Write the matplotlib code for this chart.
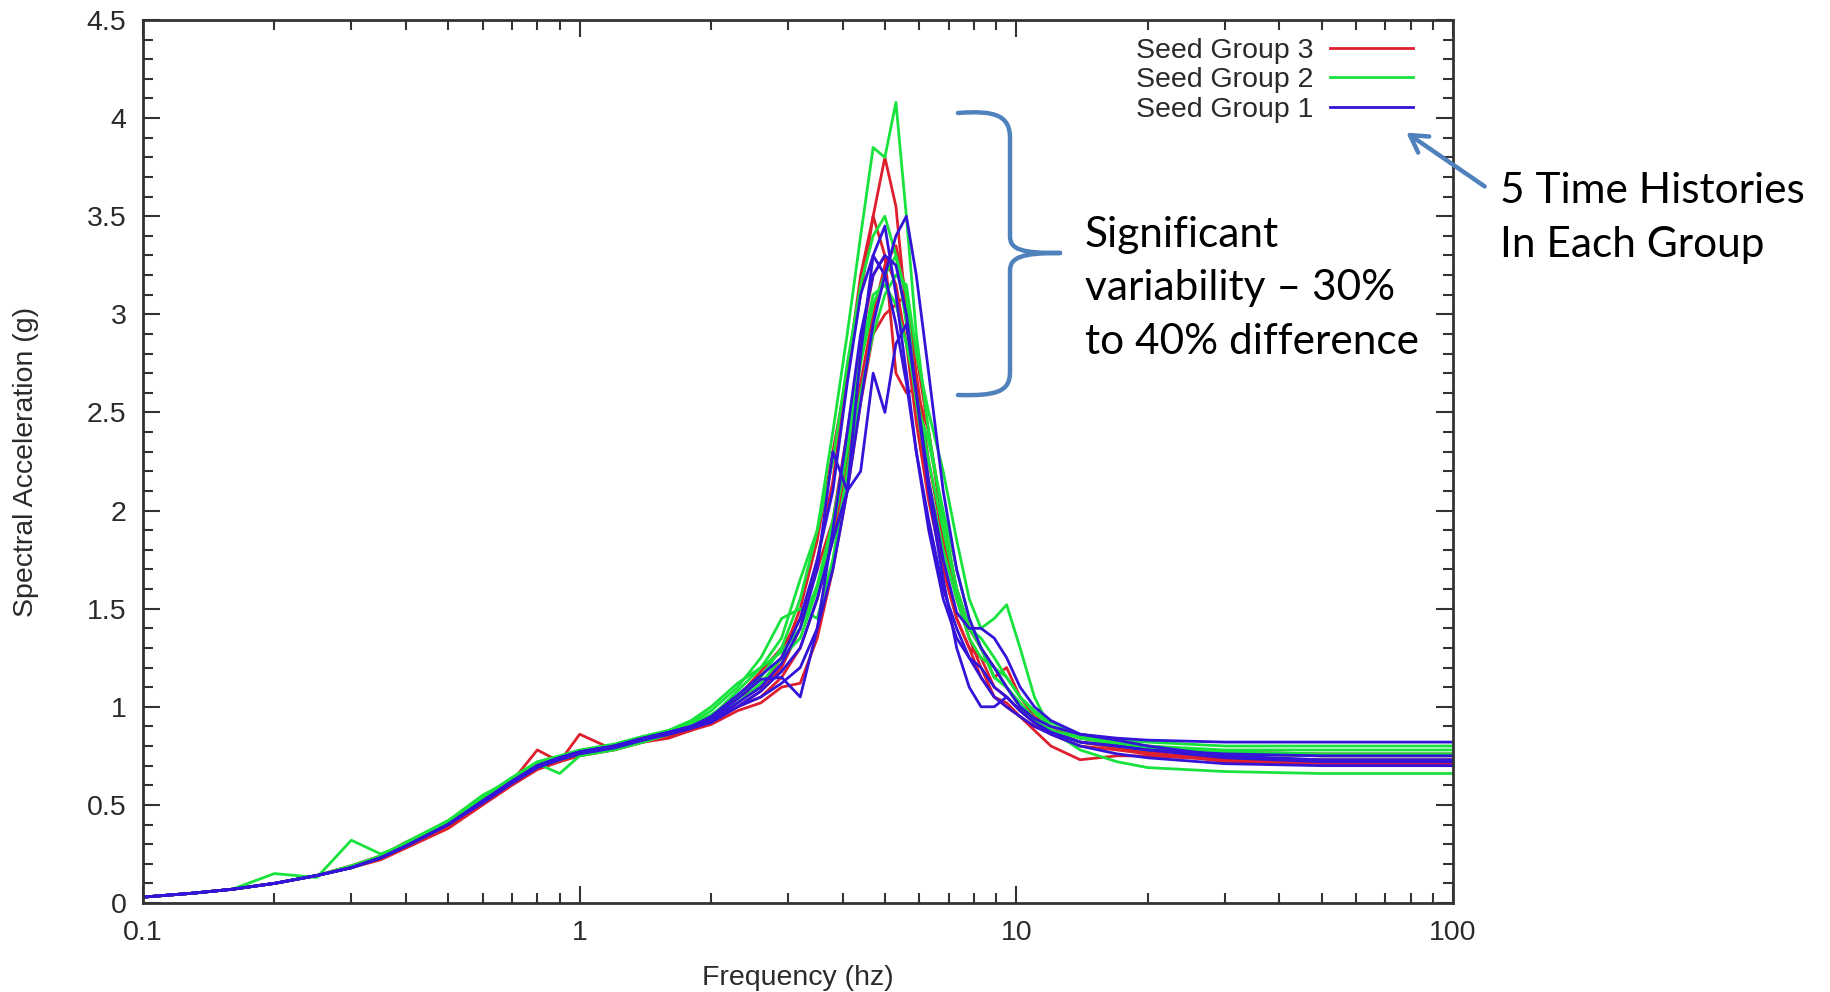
import matplotlib
matplotlib.use('Agg')
import matplotlib.pyplot as plt
from matplotlib.path import Path
from matplotlib.patches import PathPatch, FancyArrowPatch
from matplotlib.ticker import MultipleLocator, FixedLocator, LogLocator, NullFormatter

# frequency grid (hz)
freq = [0.1, 0.13, 0.16, 0.2, 0.25, 0.3, 0.35, 0.4, 0.5, 0.6, 0.7, 0.8, 0.9, 1.0,
        1.2, 1.4, 1.6, 1.8, 2.0, 2.3, 2.6, 2.9, 3.2, 3.5, 3.8, 4.1, 4.4, 4.7, 5.0,
        5.3, 5.6, 5.9, 6.3, 6.8, 7.3, 7.8, 8.3, 8.9, 9.5, 10.2, 11, 12, 14, 17, 20,
        30, 50, 100]

# Seed Group 3 (red)
group3 = [
    [0.03, 0.05, 0.07, 0.10, 0.14, 0.19, 0.24, 0.31, 0.40, 0.52, 0.62, 0.78, 0.72, 0.86, 0.78, 0.84, 0.85, 0.88, 0.92, 1.00, 1.08, 1.20, 1.40, 1.75, 2.15, 2.70, 3.20, 3.50, 3.80, 3.55, 3.00, 2.55, 2.10, 1.70, 1.45, 1.30, 1.25, 1.10, 1.05, 0.98, 0.92, 0.86, 0.80, 0.78, 0.76, 0.74, 0.73, 0.73],
    [0.03, 0.05, 0.07, 0.10, 0.14, 0.18, 0.23, 0.29, 0.40, 0.51, 0.61, 0.70, 0.74, 0.77, 0.80, 0.82, 0.86, 0.90, 0.95, 1.05, 1.10, 1.25, 1.50, 1.85, 2.30, 2.70, 3.10, 3.50, 3.30, 2.70, 2.60, 2.62, 2.40, 1.90, 1.60, 1.40, 1.30, 1.15, 1.20, 1.05, 0.95, 0.90, 0.84, 0.81, 0.79, 0.76, 0.75, 0.75],
    [0.03, 0.05, 0.07, 0.10, 0.14, 0.18, 0.23, 0.29, 0.39, 0.51, 0.61, 0.69, 0.73, 0.76, 0.79, 0.83, 0.87, 0.89, 0.93, 1.00, 1.05, 1.15, 1.30, 1.55, 1.85, 2.25, 2.65, 3.00, 3.25, 3.35, 3.10, 2.70, 2.25, 1.85, 1.55, 1.35, 1.20, 1.05, 1.00, 0.95, 0.90, 0.88, 0.85, 0.82, 0.80, 0.77, 0.76, 0.76],
    [0.03, 0.05, 0.07, 0.10, 0.14, 0.18, 0.22, 0.28, 0.38, 0.50, 0.60, 0.68, 0.72, 0.75, 0.78, 0.82, 0.84, 0.88, 0.91, 0.98, 1.02, 1.10, 1.12, 1.35, 1.70, 2.10, 2.55, 2.90, 3.00, 3.05, 3.10, 2.80, 2.40, 1.95, 1.60, 1.40, 1.30, 1.20, 1.10, 1.00, 0.93, 0.88, 0.82, 0.79, 0.77, 0.72, 0.71, 0.71],
    [0.03, 0.05, 0.07, 0.10, 0.14, 0.18, 0.23, 0.30, 0.40, 0.52, 0.62, 0.70, 0.74, 0.77, 0.80, 0.84, 0.87, 0.90, 0.94, 1.05, 1.18, 1.30, 1.45, 1.70, 1.95, 2.40, 2.85, 3.20, 3.30, 3.15, 2.85, 2.45, 2.05, 1.70, 1.45, 1.30, 1.15, 1.05, 1.02, 0.95, 0.88, 0.80, 0.73, 0.75, 0.75, 0.73, 0.72, 0.72],
]

# Seed Group 2 (green)
group2 = [
    [0.03, 0.05, 0.07, 0.10, 0.14, 0.18, 0.23, 0.29, 0.40, 0.52, 0.62, 0.70, 0.74, 0.77, 0.80, 0.84, 0.87, 0.91, 0.96, 1.05, 1.15, 1.30, 1.55, 1.90, 2.40, 2.90, 3.40, 3.85, 3.80, 4.08, 3.50, 2.90, 2.40, 1.95, 1.60, 1.40, 1.30, 1.15, 1.10, 1.00, 0.93, 0.88, 0.84, 0.81, 0.79, 0.77, 0.76, 0.76],
    [0.03, 0.05, 0.07, 0.15, 0.13, 0.32, 0.25, 0.30, 0.42, 0.55, 0.63, 0.71, 0.66, 0.75, 0.78, 0.82, 0.86, 0.92, 0.98, 1.10, 1.25, 1.45, 1.50, 1.45, 1.75, 2.20, 2.60, 2.90, 3.10, 3.20, 3.15, 2.80, 2.50, 2.20, 1.85, 1.55, 1.40, 1.45, 1.52, 1.30, 1.05, 0.88, 0.78, 0.72, 0.69, 0.67, 0.66, 0.66],
    [0.03, 0.05, 0.07, 0.10, 0.14, 0.18, 0.23, 0.30, 0.41, 0.54, 0.64, 0.72, 0.75, 0.78, 0.81, 0.85, 0.88, 0.93, 1.00, 1.12, 1.20, 1.35, 1.65, 1.90, 2.25, 2.75, 3.15, 3.40, 3.50, 3.30, 2.95, 2.55, 2.15, 1.80, 1.55, 1.35, 1.25, 1.20, 1.15, 1.05, 0.97, 0.90, 0.85, 0.82, 0.80, 0.78, 0.78, 0.78],
    [0.03, 0.05, 0.07, 0.10, 0.14, 0.18, 0.23, 0.29, 0.40, 0.52, 0.62, 0.70, 0.73, 0.76, 0.79, 0.83, 0.86, 0.90, 0.94, 1.02, 1.12, 1.25, 1.35, 1.60, 1.90, 2.30, 2.75, 3.05, 3.20, 3.30, 3.10, 2.55, 2.35, 2.00, 1.70, 1.45, 1.30, 1.15, 1.10, 1.02, 0.94, 0.87, 0.82, 0.80, 0.78, 0.76, 0.75, 0.75],
    [0.03, 0.05, 0.07, 0.10, 0.14, 0.19, 0.24, 0.31, 0.42, 0.53, 0.63, 0.71, 0.74, 0.77, 0.80, 0.84, 0.88, 0.91, 0.95, 1.08, 1.20, 1.28, 1.40, 1.62, 1.95, 2.35, 2.80, 3.10, 3.15, 3.05, 2.85, 2.60, 2.25, 1.90, 1.60, 1.40, 1.35, 1.25, 1.15, 1.05, 0.98, 0.92, 0.86, 0.83, 0.82, 0.80, 0.80, 0.80],
]

# Seed Group 1 (blue)
group1 = [
    [0.03, 0.05, 0.07, 0.10, 0.14, 0.18, 0.23, 0.29, 0.40, 0.52, 0.62, 0.70, 0.74, 0.77, 0.80, 0.84, 0.87, 0.90, 0.93, 1.00, 1.05, 1.12, 1.20, 1.40, 1.70, 2.10, 2.55, 2.95, 3.20, 3.40, 3.50, 3.20, 2.70, 2.10, 1.70, 1.45, 1.30, 1.20, 1.10, 1.00, 0.94, 0.90, 0.86, 0.84, 0.83, 0.82, 0.82, 0.82],
    [0.03, 0.05, 0.07, 0.10, 0.14, 0.18, 0.23, 0.29, 0.40, 0.52, 0.62, 0.70, 0.74, 0.77, 0.80, 0.84, 0.86, 0.89, 0.93, 1.02, 1.10, 1.22, 1.40, 1.70, 2.30, 2.10, 2.80, 3.30, 3.45, 3.10, 2.70, 2.30, 1.90, 1.55, 1.35, 1.25, 1.20, 1.10, 1.05, 0.98, 0.92, 0.87, 0.82, 0.80, 0.78, 0.76, 0.75, 0.75],
    [0.03, 0.05, 0.07, 0.10, 0.14, 0.18, 0.23, 0.29, 0.40, 0.51, 0.61, 0.69, 0.73, 0.76, 0.79, 0.83, 0.86, 0.89, 0.92, 1.00, 1.08, 1.18, 1.30, 1.55, 1.85, 2.10, 2.20, 2.70, 2.50, 2.85, 2.95, 2.60, 2.10, 1.65, 1.30, 1.10, 1.00, 1.00, 1.05, 0.98, 0.92, 0.87, 0.82, 0.80, 0.78, 0.74, 0.72, 0.72],
    [0.03, 0.05, 0.07, 0.10, 0.14, 0.18, 0.23, 0.29, 0.40, 0.52, 0.62, 0.70, 0.74, 0.77, 0.80, 0.84, 0.87, 0.90, 0.94, 1.04, 1.14, 1.15, 1.05, 1.40, 1.90, 2.40, 2.90, 3.20, 3.30, 3.25, 3.00, 2.60, 2.15, 1.75, 1.48, 1.40, 1.40, 1.35, 1.25, 1.10, 1.00, 0.93, 0.86, 0.83, 0.80, 0.75, 0.73, 0.73],
    [0.03, 0.05, 0.07, 0.10, 0.14, 0.18, 0.23, 0.29, 0.40, 0.52, 0.62, 0.70, 0.74, 0.77, 0.80, 0.84, 0.87, 0.90, 0.95, 1.06, 1.16, 1.25, 1.45, 1.75, 2.10, 2.65, 3.10, 3.30, 3.20, 2.95, 2.65, 2.30, 1.95, 1.60, 1.40, 1.25, 1.15, 1.05, 1.00, 0.95, 0.90, 0.86, 0.80, 0.76, 0.74, 0.71, 0.70, 0.70],
]

groups = [('Seed Group 3', group3, '#dd1f2e'),
          ('Seed Group 2', group2, '#18e23c'),
          ('Seed Group 1', group1, '#3414d8')]

W, H = 1831, 992
plt.rcParams['font.family'] = ['Liberation Sans', 'DejaVu Sans']

fig = plt.figure(figsize=(W / 100, H / 100), dpi=100)
ax = fig.add_axes([143 / W, 1 - 903 / H, 1310 / W, 883 / H])

handles = []
for name, curves, col in groups:
    for i, c in enumerate(curves):
        ln, = ax.plot(freq, c, color=col, lw=2.0, solid_joinstyle='round')
        if i == 0:
            handles.append((ln, name))

ax.set_xscale('log')
ax.set_xlim(0.1, 100)
ax.set_ylim(0, 4.5)
ax.xaxis.set_major_locator(FixedLocator([0.1, 1, 10, 100]))
ax.set_xticklabels(['0.1', '1', '10', '100'])
ax.xaxis.set_minor_locator(LogLocator(base=10, subs=range(2, 10)))
ax.xaxis.set_minor_formatter(NullFormatter())
ax.set_yticks([0, 0.5, 1, 1.5, 2, 2.5, 3, 3.5, 4, 4.5])
ax.set_yticklabels(['0', '0.5', '1', '1.5', '2', '2.5', '3', '3.5', '4', '4.5'])
ax.yaxis.set_minor_locator(MultipleLocator(0.1))

txtcol = '#2a2a2a'
ax.tick_params(which='both', direction='in', top=True, right=True, colors='#333333',
               labelcolor=txtcol, labelsize=20.5, width=1.5)
ax.tick_params(which='major', length=12, pad=12)
ax.tick_params(which='minor', length=7)
for s in ax.spines.values():
    s.set_linewidth(2)
    s.set_color('#333333')

ax.set_xlabel('Frequency (hz)', fontsize=20.5, color=txtcol, labelpad=14)
ax.set_ylabel('Spectral Acceleration (g)', fontsize=20.5, color=txtcol, labelpad=34)

leg = ax.legend([h for h, _ in handles], [n for _, n in handles], loc='upper right',
                frameon=False, markerfirst=False, fontsize=20.5, handlelength=2.9,
                handletextpad=0.6, labelspacing=0.12, borderaxespad=0.3,
                bbox_to_anchor=(1 - 20 / 1310, 1 + 2 / 883))
for t in leg.get_texts():
    t.set_color(txtcol)


def px(x, y):
    return (x / W, 1 - y / H)


blue = '#4f81bd'
# curly brace
verts = [px(958, 113), px(996, 110), px(1010, 116), px(1010, 138), px(1010, 236),
         px(1010, 250), px(1022, 253), px(1060, 253),
         px(1060, 253), px(1022, 253), px(1010, 257), px(1010, 271), px(1010, 372),
         px(1010, 392), px(996, 396), px(958, 395)]
codes = [Path.MOVETO, Path.CURVE4, Path.CURVE4, Path.CURVE4, Path.LINETO,
         Path.CURVE4, Path.CURVE4, Path.CURVE4,
         Path.MOVETO, Path.CURVE4, Path.CURVE4, Path.CURVE4, Path.LINETO,
         Path.CURVE4, Path.CURVE4, Path.CURVE4]
fig.patches.append(PathPatch(Path(verts, codes), transform=fig.transFigure,
                             fill=False, edgecolor=blue, lw=3.2, capstyle='round'))

# arrow to legend
arr = FancyArrowPatch(px(1487, 188), px(1404, 131), transform=fig.transFigure,
                      arrowstyle='->,head_length=12,head_width=7', color=blue,
                      lw=3.2, mutation_scale=1, capstyle='round', joinstyle='round')
fig.patches.append(arr)

note_font = ['Lato', 'DejaVu Sans']
fig.text(*px(1085, 288), 'Significant\nvariability \u2013 30%\nto 40% difference',
         fontsize=30.5, family=note_font, va='center', ha='left', linespacing=1.5,
         transform=fig.transFigure)
fig.text(*px(1500, 218), '5 Time Histories\nIn Each Group', fontsize=30.5,
         family=note_font, va='center', ha='left', linespacing=1.5,
         transform=fig.transFigure)

fig.savefig('out.png', dpi=100)
